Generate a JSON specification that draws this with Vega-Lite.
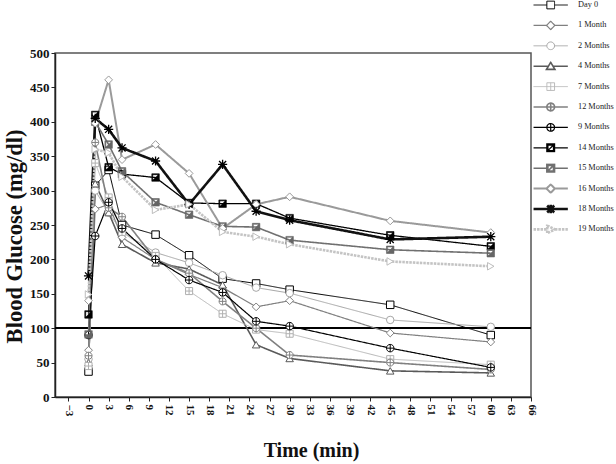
{
  "$schema": "https://vega.github.io/schema/vega-lite/v6.json",
  "width": 476,
  "height": 344,
  "autosize": {"type": "none"},
  "padding": {"left": 55, "top": 53, "right": 85, "bottom": 67},
  "background": "white",
  "config": {
    "font": "Liberation Serif",
    "view": {"stroke": "#555", "strokeWidth": 1.5},
    "axis": {"grid": false, "domainColor": "#222", "domainWidth": 1.5, "tickColor": "#222", "labelColor": "#111", "titleColor": "#111"},
    "legend": {"padding": 0},
    "point": {"size": 50, "strokeWidth": 1, "opacity": 1}
  },
  "datasets": {
    "glucose": [
      {"series": "Day 0", "time": 0, "glucose": 37}, {"series": "Day 0", "time": 1, "glucose": 307}, {"series": "Day 0", "time": 3, "glucose": 330}, {"series": "Day 0", "time": 5, "glucose": 250}, {"series": "Day 0", "time": 10, "glucose": 236}, {"series": "Day 0", "time": 15, "glucose": 206}, {"series": "Day 0", "time": 20, "glucose": 172}, {"series": "Day 0", "time": 25, "glucose": 165}, {"series": "Day 0", "time": 30, "glucose": 156}, {"series": "Day 0", "time": 45, "glucose": 134}, {"series": "Day 0", "time": 60, "glucose": 90},
      {"series": "1 Month", "time": 0, "glucose": 68}, {"series": "1 Month", "time": 1, "glucose": 273}, {"series": "1 Month", "time": 3, "glucose": 280}, {"series": "1 Month", "time": 5, "glucose": 232}, {"series": "1 Month", "time": 10, "glucose": 200}, {"series": "1 Month", "time": 15, "glucose": 178}, {"series": "1 Month", "time": 20, "glucose": 159}, {"series": "1 Month", "time": 25, "glucose": 131}, {"series": "1 Month", "time": 30, "glucose": 140}, {"series": "1 Month", "time": 45, "glucose": 93}, {"series": "1 Month", "time": 60, "glucose": 80},
      {"series": "2  Months", "time": 0, "glucose": 55}, {"series": "2  Months", "time": 1, "glucose": 300}, {"series": "2  Months", "time": 3, "glucose": 268}, {"series": "2  Months", "time": 5, "glucose": 240}, {"series": "2  Months", "time": 10, "glucose": 210}, {"series": "2  Months", "time": 15, "glucose": 195}, {"series": "2  Months", "time": 20, "glucose": 177}, {"series": "2  Months", "time": 25, "glucose": 159}, {"series": "2  Months", "time": 30, "glucose": 151}, {"series": "2  Months", "time": 45, "glucose": 112}, {"series": "2  Months", "time": 60, "glucose": 102},
      {"series": "4  Months", "time": 0, "glucose": 50}, {"series": "4  Months", "time": 1, "glucose": 310}, {"series": "4  Months", "time": 3, "glucose": 268}, {"series": "4  Months", "time": 5, "glucose": 222}, {"series": "4  Months", "time": 10, "glucose": 195}, {"series": "4  Months", "time": 15, "glucose": 186}, {"series": "4  Months", "time": 20, "glucose": 163}, {"series": "4  Months", "time": 25, "glucose": 76}, {"series": "4  Months", "time": 30, "glucose": 56}, {"series": "4  Months", "time": 45, "glucose": 38}, {"series": "4  Months", "time": 60, "glucose": 35},
      {"series": "7 Months", "time": 0, "glucose": 45}, {"series": "7 Months", "time": 1, "glucose": 340}, {"series": "7 Months", "time": 3, "glucose": 290}, {"series": "7 Months", "time": 5, "glucose": 240}, {"series": "7 Months", "time": 10, "glucose": 205}, {"series": "7 Months", "time": 15, "glucose": 154}, {"series": "7 Months", "time": 20, "glucose": 121}, {"series": "7 Months", "time": 25, "glucose": 98}, {"series": "7 Months", "time": 30, "glucose": 92}, {"series": "7 Months", "time": 45, "glucose": 55}, {"series": "7 Months", "time": 60, "glucose": 47},
      {"series": "12 Months", "time": 0, "glucose": 60}, {"series": "12 Months", "time": 1, "glucose": 370}, {"series": "12 Months", "time": 3, "glucose": 275}, {"series": "12 Months", "time": 5, "glucose": 262}, {"series": "12 Months", "time": 10, "glucose": 200}, {"series": "12 Months", "time": 15, "glucose": 180}, {"series": "12 Months", "time": 20, "glucose": 139}, {"series": "12 Months", "time": 25, "glucose": 100}, {"series": "12 Months", "time": 30, "glucose": 61}, {"series": "12 Months", "time": 45, "glucose": 50}, {"series": "12 Months", "time": 60, "glucose": 40},
      {"series": "9 Months", "time": 0, "glucose": 90}, {"series": "9 Months", "time": 1, "glucose": 234}, {"series": "9 Months", "time": 3, "glucose": 283}, {"series": "9 Months", "time": 5, "glucose": 245}, {"series": "9 Months", "time": 10, "glucose": 200}, {"series": "9 Months", "time": 15, "glucose": 170}, {"series": "9 Months", "time": 20, "glucose": 152}, {"series": "9 Months", "time": 25, "glucose": 110}, {"series": "9 Months", "time": 30, "glucose": 103}, {"series": "9 Months", "time": 45, "glucose": 71}, {"series": "9 Months", "time": 60, "glucose": 43},
      {"series": "14 Months", "time": 0, "glucose": 120}, {"series": "14 Months", "time": 1, "glucose": 410}, {"series": "14 Months", "time": 3, "glucose": 334}, {"series": "14 Months", "time": 5, "glucose": 324}, {"series": "14 Months", "time": 10, "glucose": 319}, {"series": "14 Months", "time": 15, "glucose": 282}, {"series": "14 Months", "time": 20, "glucose": 281}, {"series": "14 Months", "time": 25, "glucose": 281}, {"series": "14 Months", "time": 30, "glucose": 260}, {"series": "14 Months", "time": 45, "glucose": 235}, {"series": "14 Months", "time": 60, "glucose": 219},
      {"series": "15 Months", "time": 0, "glucose": 91}, {"series": "15 Months", "time": 1, "glucose": 400}, {"series": "15 Months", "time": 3, "glucose": 367}, {"series": "15 Months", "time": 5, "glucose": 328}, {"series": "15 Months", "time": 10, "glucose": 283}, {"series": "15 Months", "time": 15, "glucose": 265}, {"series": "15 Months", "time": 20, "glucose": 248}, {"series": "15 Months", "time": 25, "glucose": 247}, {"series": "15 Months", "time": 30, "glucose": 228}, {"series": "15 Months", "time": 45, "glucose": 214}, {"series": "15 Months", "time": 60, "glucose": 209},
      {"series": "16 Months", "time": 0, "glucose": 140}, {"series": "16 Months", "time": 1, "glucose": 398}, {"series": "16 Months", "time": 3, "glucose": 461}, {"series": "16 Months", "time": 5, "glucose": 345}, {"series": "16 Months", "time": 10, "glucose": 367}, {"series": "16 Months", "time": 15, "glucose": 325}, {"series": "16 Months", "time": 20, "glucose": 245}, {"series": "16 Months", "time": 25, "glucose": 280}, {"series": "16 Months", "time": 30, "glucose": 291}, {"series": "16 Months", "time": 45, "glucose": 256}, {"series": "16 Months", "time": 60, "glucose": 239},
      {"series": "18 Months", "time": 0, "glucose": 176}, {"series": "18 Months", "time": 1, "glucose": 405}, {"series": "18 Months", "time": 3, "glucose": 389}, {"series": "18 Months", "time": 5, "glucose": 362}, {"series": "18 Months", "time": 10, "glucose": 343}, {"series": "18 Months", "time": 15, "glucose": 280}, {"series": "18 Months", "time": 20, "glucose": 338}, {"series": "18 Months", "time": 25, "glucose": 270}, {"series": "18 Months", "time": 30, "glucose": 257}, {"series": "18 Months", "time": 45, "glucose": 229}, {"series": "18 Months", "time": 60, "glucose": 233},
      {"series": "19 Months", "time": 0, "glucose": 149}, {"series": "19 Months", "time": 1, "glucose": 360}, {"series": "19 Months", "time": 3, "glucose": 355}, {"series": "19 Months", "time": 5, "glucose": 320}, {"series": "19 Months", "time": 10, "glucose": 272}, {"series": "19 Months", "time": 15, "glucose": 280}, {"series": "19 Months", "time": 20, "glucose": 240}, {"series": "19 Months", "time": 25, "glucose": 233}, {"series": "19 Months", "time": 30, "glucose": 222}, {"series": "19 Months", "time": 45, "glucose": 197}, {"series": "19 Months", "time": 60, "glucose": 190}
    ]
  },
  "data": {"name": "glucose"},
  "encoding": {
    "x": {
      "field": "time", "type": "quantitative",
      "scale": {"domain": [-5, 66], "nice": false, "zero": false},
      "axis": {
        "values": [-3, 0, 3, 6, 9, 12, 15, 18, 21, 24, 27, 30, 33, 36, 39, 42, 45, 48, 51, 54, 57, 60, 63, 66],
        "labelAngle": 90, "labelFont": "Liberation Serif", "labelFontWeight": "bold", "labelFontSize": 11,
        "tickSize": 4, "labelPadding": 3,
        "title": "Time (min)", "titleFont": "Liberation Serif", "titleFontWeight": "bold", "titleFontSize": 20,
        "titleX": 256, "titleY": 53, "titleBaseline": "middle", "titleAnchor": "middle", "titleAlign": "center"
      }
    },
    "y": {
      "field": "glucose", "type": "quantitative",
      "scale": {"domain": [0, 500], "nice": false},
      "axis": {
        "values": [0, 50, 100, 150, 200, 250, 300, 350, 400, 450, 500],
        "labelFont": "Liberation Serif", "labelFontWeight": "bold", "labelFontSize": 13,
        "tickSize": 4, "labelPadding": 2,
        "title": "Blood Glucose (mg/dl)", "titleFont": "Liberation Serif", "titleFontWeight": "bold", "titleFontSize": 22.5,
        "titlePadding": 3, "titleY": 183, "titleAnchor": "middle", "titleAlign": "center"
      }
    }
  },
  "layer": [
    {
      "mark": {"type": "rule", "color": "#000", "strokeWidth": 1},
      "encoding": {"y": {"datum": 100}, "x": {"datum": -5}, "x2": {"datum": 66}}
    },
    {
      "mark": {"type": "line", "strokeJoin": "miter"},
      "encoding": {
        "detail": {"field": "series"},
        "stroke": {
          "field": "series", "type": "nominal",
          "scale": {
            "domain": ["Day 0", "1 Month", "2  Months", "4  Months", "7 Months", "12 Months", "9 Months", "14 Months", "15 Months", "16 Months", "18 Months", "19 Months"],
            "range": ["#000000", "#808080", "#a6a6a6", "#5a5a5a", "#b8b8b8", "#808080", "#000000", "#000000", "#707070", "#9a9a9a", "#111111", "#c4c4c4"]
          },
          "legend": {
            "orient": "none", "legendX": 478, "legendY": -53, "title": null,
            "symbolSize": 49, "symbolOpacity": 1, "rowPadding": 10.4, "clipHeight": 10, "symbolOffset": 12.7,
            "labelFont": "Liberation Serif", "labelFontSize": 8.3, "labelColor": "#222", "labelOffset": 22.3
          }
        },
        "strokeWidth": {
          "field": "series", "type": "nominal",
          "scale": {
            "type": "ordinal",
            "domain": ["Day 0", "1 Month", "2  Months", "4  Months", "7 Months", "12 Months", "9 Months", "14 Months", "15 Months", "16 Months", "18 Months", "19 Months"],
            "range": [1, 1.2, 1, 1.6, 1, 1.6, 1.2, 1.3, 1.6, 2, 2.6, 2.6]
          }
        },
        "strokeDash": {
          "field": "series", "type": "nominal",
          "scale": {
            "domain": ["Day 0", "1 Month", "2  Months", "4  Months", "7 Months", "12 Months", "9 Months", "14 Months", "15 Months", "16 Months", "18 Months", "19 Months"],
            "range": [[1, 0], [1, 0], [1, 0], [1, 0], [1, 0], [1, 0], [1, 0], [1, 0], [1, 0], [1, 0], [1, 0], [2.5, 1]]
          }
        }
      }
    },
    {
      "mark": {"type": "point", "opacity": 0},
      "encoding": {
        "shape": {
          "field": "series", "type": "nominal",
          "scale": {
            "domain": ["Day 0", "1 Month", "2  Months", "4  Months", "7 Months", "12 Months", "9 Months", "14 Months", "15 Months", "16 Months", "18 Months", "19 Months"],
            "range": [
              "M-4.9,0H-1.1M1.1,0H4.9M-1.1,-1.1H1.1V1.1H-1.1Z",
              "M-4.9,0H-1.2M1.2,0H4.9M0,-1.2L1.2,0L0,1.2L-1.2,0Z",
              "M-4.9,0H-1.1M1.1,0H4.9M-1.1,0A1.1,1.1 0 1,1 1.1,0A1.1,1.1 0 1,1 -1.1,0Z",
              "M-4.9,0H-0.7M0.7,0H4.9M0,-1.1L1.2,0.9L-1.2,0.9Z",
              "M-4.9,0H4.9M-1.1,-1.1H1.1V1.1H-1.1Z M0,-1.1V1.1",
              "M-4.9,0H4.9M-1.1,0A1.1,1.1 0 1,1 1.1,0A1.1,1.1 0 1,1 -1.1,0Z M0,-1.1V1.1",
              "M-4.9,0H4.9M-1.1,0A1.1,1.1 0 1,1 1.1,0A1.1,1.1 0 1,1 -1.1,0Z M0,-1.1V1.1",
              "M-4.9,0H-1.1M1.1,0H4.9M-1.1,-1.1H1.1V1.1H-1.1Z M-0.8,-0.8V0.8H0.8V-0.8Z M0.8,-0.8L0.8,0.8L-0.8,0.8Z",
              "M-4.9,0H-1.1M1.1,0H4.9M-1.1,-1.1H1.1V1.1H-1.1Z M-0.8,-0.8V0.8H0.8V-0.8Z M0.8,-0.8L0.8,0.8L-0.8,0.8Z",
              "M-4.9,0H-1.2M1.2,0H4.9M0,-1.2L1.2,0L0,1.2L-1.2,0Z",
              "M-4.9,0H4.9M-1,-1L1,1M1,-1L-1,1M0,-1.2V1.2",
              "M-4.9,0H-1M1.2,0H4.9M-1,-1.1L1.2,0L-1,1.1Z"
            ]
          },
          "legend": {
            "orient": "none", "legendX": 478, "legendY": -53, "title": null,
            "symbolSize": 49, "symbolOpacity": 1, "rowPadding": 10.4, "clipHeight": 10, "symbolOffset": 12.7,
            "labelFont": "Liberation Serif", "labelFontSize": 8.3, "labelColor": "#222", "labelOffset": 22.3
          }
        },
        "fill": {
          "field": "series", "type": "nominal",
          "scale": {
            "domain": ["Day 0", "1 Month", "2  Months", "4  Months", "7 Months", "12 Months", "9 Months", "14 Months", "15 Months", "16 Months", "18 Months", "19 Months"],
            "range": ["#ffffff", "#ffffff", "#ffffff", "#ffffff", "#ffffff", "#ffffff", "#ffffff", "#000000", "#707070", "#ffffff", "transparent", "#ffffff"]
          }
        },
        "stroke": {"field": "series", "type": "nominal"}
      }
    },
    {"transform": [{"filter": "datum.series === 'Day 0'"}], "mark": {"type": "point", "shape": "square", "fill": "#ffffff", "stroke": "#000000", "size": 56}},
    {"transform": [{"filter": "datum.series === '1 Month'"}], "mark": {"type": "point", "shape": "diamond", "fill": "#ffffff", "stroke": "#808080", "size": 60}},
    {"transform": [{"filter": "datum.series === '2  Months'"}], "mark": {"type": "point", "shape": "circle", "fill": "#ffffff", "stroke": "#a6a6a6", "size": 56}},
    {"transform": [{"filter": "datum.series === '4  Months'"}], "mark": {"type": "point", "shape": "triangle-up", "fill": "#ffffff", "stroke": "#5a5a5a", "size": 56}},
    {"transform": [{"filter": "datum.series === '7 Months'"}], "mark": {"type": "point", "shape": "M-1,-1H1V1H-1Z M0,-1V1 M-1,0H1", "fill": "#ffffff", "stroke": "#b0b0b0", "size": 50}},
    {"transform": [{"filter": "datum.series === '12 Months'"}], "mark": {"type": "point", "shape": "M-1,0A1,1 0 1,1 1,0A1,1 0 1,1 -1,0Z M0,-1V1 M-1,0H1", "fill": "#ffffff", "stroke": "#808080", "size": 50}},
    {"transform": [{"filter": "datum.series === '9 Months'"}], "mark": {"type": "point", "shape": "M-1,0A1,1 0 1,1 1,0A1,1 0 1,1 -1,0Z M0,-1V1 M-1,0H1", "fill": "#ffffff", "stroke": "#000000", "size": 56}},
    {"transform": [{"filter": "datum.series === '14 Months'"}], "mark": {"type": "point", "shape": "M-1,-1H1V1H-1Z M-0.75,-0.75V0.75H0.75V-0.75Z M0.75,-0.75L0.75,0.75L-0.75,0.75Z", "fill": "#000000", "stroke": "#000000", "strokeWidth": 0.6, "size": 56}},
    {"transform": [{"filter": "datum.series === '15 Months'"}], "mark": {"type": "point", "shape": "M-1,-1H1V1H-1Z M-0.75,-0.75V0.75H0.75V-0.75Z M0.75,-0.75L0.75,0.75L-0.75,0.75Z", "fill": "#666666", "stroke": "#666666", "strokeWidth": 0.6, "size": 56}},
    {"transform": [{"filter": "datum.series === '16 Months'"}], "mark": {"type": "point", "shape": "diamond", "fill": "#ffffff", "stroke": "#999999", "size": 60}},
    {"transform": [{"filter": "datum.series === '18 Months'"}], "mark": {"type": "point", "shape": "M-1,-1L1,1M1,-1L-1,1M0,-1.3V1.3M-1.3,0H1.3", "fill": "transparent", "stroke": "#000000", "strokeWidth": 1.3, "size": 50}},
    {"transform": [{"filter": "datum.series === '19 Months'"}], "mark": {"type": "point", "shape": "triangle-right", "fill": "#ffffff", "stroke": "#bdbdbd", "size": 56}}
  ]
}
